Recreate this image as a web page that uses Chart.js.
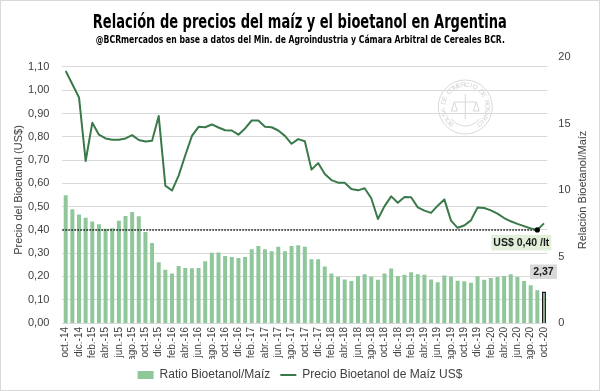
<!DOCTYPE html>
<html>
<head>
<meta charset="utf-8">
<script src="https://cdn.jsdelivr.net/npm/chart.js@4.4.0/dist/chart.umd.min.js"></script>
<style>
  html, body { margin: 0; padding: 0; background: #fff; }
  #wrap { position: relative; width: 600px; height: 391px; overflow: hidden; }
  #frame { position: absolute; left: 0; top: 0; width: 600px; height: 391px; box-sizing: border-box;
           border: 1px solid #d9d9d9; pointer-events: none; }
  .ttl { position: absolute; left: 0; width: 600px; text-align: center; white-space: nowrap; color: #000;
         font-family: 'Liberation Sans Narrow', 'DejaVu Sans Condensed', 'Liberation Sans', sans-serif; font-weight: bold; }
  .ttl span { display: inline-block; transform-origin: center; }
  #title { top: 9px; font-size: 20px; line-height: 24px; }
  #subtitle { top: 34px; font-size: 10px; line-height: 12px; }
</style>
</head>
<body>
<div id="wrap">
  <canvas id="chart" width="600" height="391"></canvas>
  <div class="ttl" id="title"><span data-w="414">Relación de precios del maíz y el bioetanol en Argentina</span></div>
  <div class="ttl" id="subtitle"><span data-w="409">@BCRmercados en base a datos del Min. de Agroindustria y Cámara Arbitral de Cereales BCR.</span></div>
  <div id="frame"></div>
</div>
<script>
// ----- data -----
const categories = [
  'oct.-14','nov.-14','dic.-14',
  'ene.-15','feb.-15','mar.-15','abr.-15','may.-15','jun.-15','jul.-15','ago.-15','sep.-15','oct.-15','nov.-15','dic.-15',
  'ene.-16','feb.-16','mar.-16','abr.-16','may.-16','jun.-16','jul.-16','ago.-16','sep.-16','oct.-16','nov.-16','dic.-16',
  'ene.-17','feb.-17','mar.-17','abr.-17','may.-17','jun.-17','jul.-17','ago.-17','sep.-17','oct.-17','nov.-17','dic.-17',
  'ene.-18','feb.-18','mar.-18','abr.-18','may.-18','jun.-18','jul.-18','ago.-18','sep.-18','oct.-18','nov.-18','dic.-18',
  'ene.-19','feb.-19','mar.-19','abr.-19','may.-19','jun.-19','jul.-19','ago.-19','sep.-19','oct.-19','nov.-19','dic.-19',
  'ene.-20','feb.-20','mar.-20','abr.-20','may.-20','jun.-20','jul.-20','ago.-20','sep.-20','oct.-20'
];

// Ratio Bioetanol/Maíz (right axis)
const ratio = [
  9.60, 8.55, 8.15,
  7.92, 7.64, 7.42, 7.09, 7.12, 7.69, 8.05, 8.35, 8.02, 6.84, 6.02, 4.56,
  4.01, 3.73, 4.29, 4.14, 4.11, 4.14, 4.64, 5.29, 5.31, 5.03, 4.96, 4.89,
  4.96, 5.54, 5.79, 5.54, 5.39, 5.74, 5.39, 5.79, 5.84, 5.74, 4.79, 4.79,
  4.24, 3.73, 3.48, 3.28, 3.16, 3.53, 3.66, 3.48, 3.26, 3.72, 4.09, 3.53,
  3.63, 3.81, 3.66, 3.63, 3.28, 3.06, 3.58, 3.48, 3.18, 3.13, 3.03, 3.51,
  3.26, 3.38, 3.46, 3.53, 3.66, 3.46, 3.16, 2.83, 2.46, 2.37
];

// Precio Bioetanol de Maíz US$ (left axis)
const price = [
  1.083, 1.026, 0.969,
  0.696, 0.860, 0.809, 0.793, 0.787, 0.787, 0.793, 0.807, 0.786, 0.780, 0.783, 0.889,
  0.590, 0.569, 0.633, 0.721, 0.804, 0.843, 0.841, 0.853, 0.840, 0.828, 0.827, 0.809,
  0.836, 0.870, 0.870, 0.843, 0.841, 0.827, 0.804, 0.770, 0.790, 0.781, 0.659, 0.687,
  0.640, 0.614, 0.603, 0.603, 0.576, 0.570, 0.579, 0.536, 0.447, 0.502, 0.544, 0.517,
  0.541, 0.540, 0.497, 0.483, 0.473, 0.504, 0.531, 0.440, 0.409, 0.419, 0.441, 0.496,
  0.494, 0.484, 0.470, 0.451, 0.437, 0.426, 0.416, 0.406, 0.400, 0.428
];

const priceTicks = [0, 0.1, 0.2, 0.3, 0.4, 0.5, 0.6, 0.7, 0.8, 0.9, 1.0, 1.1];
const ratioTicks = [0, 5, 10, 15, 20];
const PRICE_MAX = 8 / 7;   // left axis top lines up with 20 on the right axis
const RATIO_MAX = 20;

const refPrice = 0.40;
const refIndex = categories.indexOf('sep.-20');
const lastIndex = categories.length - 1;

const FONT = "'Liberation Sans', Arial, sans-serif";
const TXT = '#404040';
const BAR = '#8fc79b';
const LINE = '#3a7a4a';

const fmt = (v, d) => v.toFixed(d).replace('.', ',');

// squeeze title text to the reference width
document.querySelectorAll('.ttl span').forEach(s => {
  const w = s.getBoundingClientRect().width;
  s.style.transform = `scaleX(${(+s.dataset.w / w).toFixed(4)})`;
});

// ----- extra drawing: reference line, labels, seal, right title -----
const extras = {
  id: 'extras',
  beforeDatasetsDraw(chart) {
    // faint seal watermark
    const { ctx, chartArea } = chart;
    const cx = chartArea.right - 82, cy = chartArea.top + 50, r = 27;
    ctx.save();
    ctx.strokeStyle = '#d8d8d8';
    ctx.fillStyle = '#d2d2d2';
    ctx.lineWidth = 1;
    ctx.beginPath(); ctx.arc(cx, cy, r, 0, Math.PI * 2); ctx.stroke();
    ctx.beginPath(); ctx.arc(cx, cy + 2, 17, Math.PI * 0.2, Math.PI * 0.8); ctx.stroke();
    const text = 'BOLSA DE COMERCIO DE ROSARIO';
    ctx.font = '6.5px ' + FONT;
    ctx.textAlign = 'center'; ctx.textBaseline = 'middle';
    const a0 = Math.PI * 0.72, a1 = Math.PI * 2.28;
    for (let i = 0; i < text.length; i++) {
      const a = a0 + (a1 - a0) * (i / (text.length - 1));
      ctx.save();
      ctx.translate(cx + Math.cos(a) * (r - 5), cy + Math.sin(a) * (r - 5));
      ctx.rotate(a + Math.PI / 2);
      ctx.fillText(text[i], 0, 0);
      ctx.restore();
    }
    // little scales
    ctx.beginPath();
    ctx.moveTo(cx, cy - 13); ctx.lineTo(cx, cy + 12);
    ctx.moveTo(cx - 11, cy - 5); ctx.lineTo(cx + 11, cy - 5);
    ctx.moveTo(cx - 11, cy - 5); ctx.lineTo(cx - 14, cy + 4); ctx.lineTo(cx - 8, cy + 4); ctx.closePath();
    ctx.moveTo(cx + 11, cy - 5); ctx.lineTo(cx + 8, cy + 4); ctx.lineTo(cx + 14, cy + 4); ctx.closePath();
    ctx.stroke();
    ctx.restore();
  },
  beforeDatasetDraw(chart, args) {
    if (args.meta.type !== 'line') return;
    const { ctx, chartArea, scales } = chart;
    const y = scales.yPrice.getPixelForValue(refPrice);
    const x1 = scales.x.getPixelForValue(refIndex);
    ctx.save();
    ctx.strokeStyle = '#000';
    ctx.lineWidth = 1.5;
    ctx.setLineDash([1.4, 1.6]);
    ctx.beginPath(); ctx.moveTo(chartArea.left, y); ctx.lineTo(x1, y); ctx.stroke();
    ctx.restore();
  },
  afterDatasetsDraw(chart) {
    const { ctx, scales } = chart;
    ctx.save();
    ctx.font = 'bold 10.5px ' + FONT;
    ctx.textAlign = 'center'; ctx.textBaseline = 'middle';

    // price label under the marked point
    const dx = scales.x.getPixelForValue(refIndex);
    const dy = scales.yPrice.getPixelForValue(refPrice);
    ctx.fillStyle = '#e2efda';
    ctx.fillRect(dx - 46, dy + 5, 60, 15.5);
    ctx.fillStyle = '#1a1a1a';
    ctx.fillText('US$ ' + fmt(refPrice, 2) + ' /lt', dx - 16, dy + 13);

    // last ratio value
    const bx = scales.x.getPixelForValue(lastIndex);
    const by = scales.yRatio.getPixelForValue(ratio[lastIndex]);
    ctx.fillStyle = '#d9d9d9';
    ctx.fillRect(bx - 14, by - 27, 27, 14.5);
    ctx.fillStyle = '#1a1a1a';
    ctx.fillText(fmt(ratio[lastIndex], 2), bx - 0.5, by - 19.5);
    ctx.restore();
  },
  afterDraw(chart) {
    // right axis title reads bottom-to-top like the left one
    const { ctx, chartArea } = chart;
    ctx.save();
    ctx.translate(chartArea.right + 36, (chartArea.top + chartArea.bottom) / 2);
    ctx.rotate(-Math.PI / 2);
    ctx.font = '11px ' + FONT;
    ctx.fillStyle = TXT;
    ctx.textAlign = 'center'; ctx.textBaseline = 'middle';
    ctx.fillText('Relación Bioetanol/Maíz', 0, 0);
    ctx.restore();
  }
};

new Chart(document.getElementById('chart'), {
  data: {
    labels: categories,
    datasets: [
      {
        type: 'bar',
        label: 'Ratio Bioetanol/Maíz',
        data: ratio,
        yAxisID: 'yRatio',
        backgroundColor: BAR,
        borderColor: c => c.dataIndex === lastIndex ? '#1a1a1a' : BAR,
        borderWidth: c => c.dataIndex === lastIndex ? 1.5 : 0,
        categoryPercentage: 1,
        barPercentage: 0.6,
        order: 1
      },
      {
        type: 'line',
        label: 'Precio Bioetanol de Maíz US$',
        data: price,
        yAxisID: 'yPrice',
        borderColor: LINE,
        borderWidth: 2,
        borderJoinStyle: 'round',
        tension: 0,
        pointRadius: c => c.dataIndex === refIndex ? 2.6 : 0,
        pointBorderWidth: 0,
        pointBackgroundColor: '#000',
        pointBorderColor: '#000',
        pointHoverRadius: 0,
        order: 0
      }
    ]
  },
  options: {
    responsive: false,
    animation: false,
    events: [],
    layout: { padding: { top: 57, left: 0, right: 0, bottom: 0 } },
    plugins: {
      tooltip: { enabled: false },
      legend: {
        position: 'bottom',
        labels: {
          usePointStyle: true, pointStyleWidth: 16, boxHeight: 8, padding: 10,
          color: TXT, font: { size: 12, family: FONT },
          generateLabels(chart) {
            const items = Chart.defaults.plugins.legend.labels.generateLabels(chart)
              .sort((a, b) => a.datasetIndex - b.datasetIndex);
            items.forEach(it => {
              if (it.datasetIndex === 0) {
                it.pointStyle = 'rect';
                it.fillStyle = BAR; it.strokeStyle = BAR; it.lineWidth = 0;
              } else {
                it.pointStyle = 'line';
                it.strokeStyle = LINE; it.lineWidth = 2;
              }
            });
            return items;
          }
        }
      }
    },
    scales: {
      x: {
        type: 'category',
        offset: true,
        grid: { display: false, drawTicks: false },
        border: { display: false },
        ticks: {
          autoSkip: false, maxRotation: 90, minRotation: 90, padding: 4,
          color: TXT, font: { size: 10, family: FONT },
          callback(v, i) { return i % 2 === 0 ? this.getLabelForValue(v) : ''; }
        },
        afterFit(s) { s.height = 36; }
      },
      yPrice: {
        position: 'left',
        min: 0, max: PRICE_MAX,
        grid: { color: '#d9d9d9', drawTicks: false },
        border: { display: false },
        afterBuildTicks(s) { s.ticks = priceTicks.map(v => ({ value: v })); },
        ticks: { padding: 13, color: TXT, font: { size: 11, family: FONT }, callback: v => fmt(v, 2) },
        title: { display: true, text: 'Precio del Bioetanol (US$)', color: TXT, font: { size: 11, family: FONT }, padding: { top: 12, bottom: 0 } },
        afterFit(s) { s.width = 62.4; }
      },
      yRatio: {
        position: 'right',
        min: 0, max: RATIO_MAX,
        grid: { display: false, drawTicks: false },
        border: { display: false },
        afterBuildTicks(s) { s.ticks = ratioTicks.map(v => ({ value: v })); },
        ticks: { padding: 11, color: TXT, font: { size: 11, family: FONT }, callback: v => String(v) },
        afterFit(s) { s.width = 52.7; }
      }
    }
  },
  plugins: [extras]
});
</script>
</body>
</html>
